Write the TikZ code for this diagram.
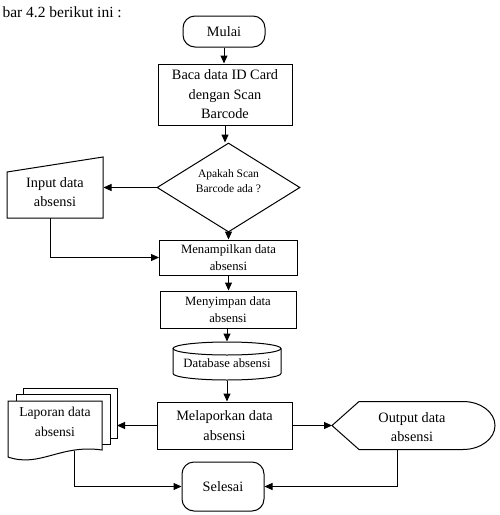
\documentclass[tikz,border=0pt]{standalone}
\usepackage{fontspec}
\setmainfont{Liberation Serif}
\usetikzlibrary{arrows.meta,shapes.geometric,calc}
\begin{document}
\begin{tikzpicture}[x=1pt,y=-1pt, line width=1pt,
 box/.style={draw, rectangle, inner sep=0pt, align=center},
 term/.style={draw, rectangle, rounded corners=12pt, inner sep=0pt, align=center},
 txt/.style={inner sep=0pt, align=center},
 arr/.style={-{Triangle[length=8pt,width=7pt]}},
 big/.style={font=\fontsize{14.3}{19.5}\selectfont},
 mid/.style={font=\fontsize{12.7}{17}\selectfont},
 sml/.style={font=\fontsize{11.5}{15}\selectfont}]
\useasboundingbox (0,0) rectangle (499,515);

% header text
\node[anchor=base west, inner sep=0pt, font=\fontsize{15.5}{18}\selectfont] (hdr) at (2,17) {bar 4.2 berikut ini :};

% nodes
\node[term,big,minimum width=82,minimum height=31] (mulai) at (224,31.5) {Mulai};
\node[box,big,minimum width=134,minimum height=61] (baca) at (225,94.5) {Baca data ID Card\\dengan Scan\\Barcode};
\node[draw,diamond,inner sep=0pt,minimum width=143,minimum height=89] (dec) at (228.5,187.5) {};
\node[txt,sml] (dectxt) at (228.5,181) {Apakah Scan\\Barcode ada ?};

% manual input
\draw (7,172) -- (103,157) -- (103,218) -- (7,218) -- cycle;
\node[txt,big,minimum width=96] (input) at (55,192) {Input data\\absensi};
\coordinate (inbot) at (50,218);

\node[box,mid,minimum width=138,minimum height=35] (men) at (228.5,257.5) {Menampilkan data\\absensi};
\node[box,mid,minimum width=136,minimum height=37] (simp) at (228,309.5) {Menyimpan data\\absensi};

% database cylinder
\draw (173,348.5) -- (173,373.5) arc(180:0:54 and 6.5) -- (281,348.5);
\draw (227,348.5) ellipse (54 and 6.5);
\node[txt,minimum width=108,minimum height=38] (db) at (227,361) {};
\node[txt,mid] (dbtxt) at (227,363) {Database absensi};

\node[box,big,minimum width=135,minimum height=47] (mel) at (224.5,425.5) {Melaporkan data\\absensi};

% multi-document
\draw (23,394) -- (23,388) -- (117,388) -- (117,438) -- (110,438);
\draw (16,401) -- (16,394) -- (110,394) -- (110,444) -- (102,444);
\draw (8,401) -- (102,401) -- (102,450) .. controls (60,444) and (40,468) .. (8,457) -- cycle;
\node[txt,font=\fontsize{13.6}{19.5}\selectfont] (lap) at (55,422) {Laporan data\\absensi};
\coordinate (lapr) at (117,425.5);
\coordinate (lapbot) at (74,450.5);

% display
\draw (332,425.5) -- (359,401.5) -- (463,401.5) arc(-90:90:32 and 24) -- (359,449.5) -- cycle;
\node[txt,big] (out) at (412,427) {Output data\\absensi};
\coordinate (outl) at (332,425.5);
\coordinate (outbot) at (397,449.5);

\node[term,big,minimum width=82,minimum height=49] (sel) at (223,486.5) {Selesai};

% connectors
\draw[arr] (mulai) -- (mulai |- baca.north);
\draw[arr] (baca.south) -- (baca.south |- dec.north);
\draw[arr] (dec.west) -- (dec.west -| input.east);
\draw[arr] (inbot) |- (men.west);
\draw[arr] (dec.south) -- (dec.south |- men.north);
\draw[arr] (men.south) -- (men.south |- simp.north);
\draw[arr] (simp.south -| db.north) -- (db.north);
\draw[arr] (db.south) -- (db.south |- mel.north);
\draw[arr] (mel.west) -- (lapr);
\draw[arr] (lapbot) |- (sel.west);
\draw[arr] (mel.east) -- (outl);
\draw[arr] (outbot) |- (sel.east);
\end{tikzpicture}
\end{document}
